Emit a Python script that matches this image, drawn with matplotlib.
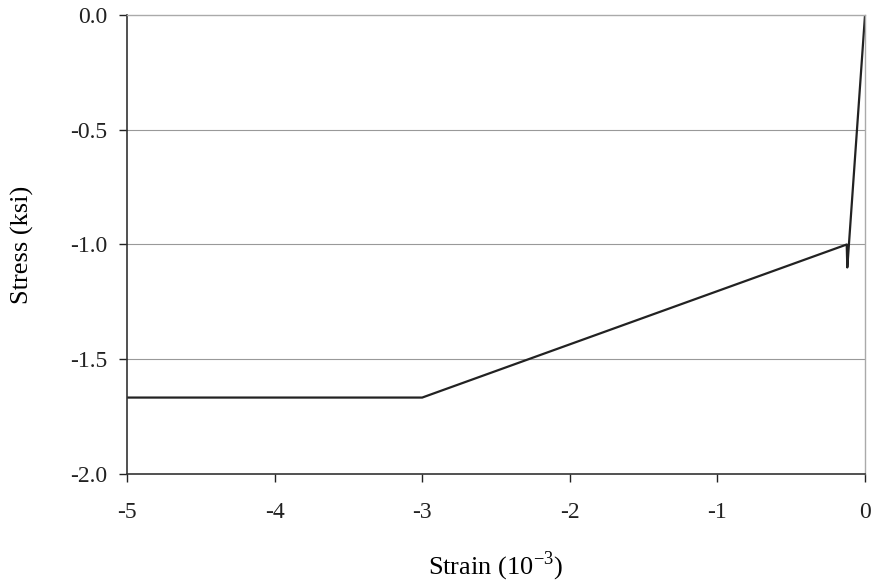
import matplotlib
matplotlib.use("Agg")
import matplotlib.pyplot as plt

plt.rcParams['font.family'] = ['Liberation Serif', 'DejaVu Serif']
plt.rcParams['mathtext.fontset'] = 'custom'
plt.rcParams['mathtext.rm'] = 'Liberation Serif'

strain = [0.0, -0.12, -0.124, -3.0, -5.0]
stress = [0.0, -1.1, -1.0, -1.667, -1.667]
xticks = [-5, -4, -3, -2, -1, 0]
yticks = [-2.0, -1.5, -1.0, -0.5, 0.0]

fig = plt.figure(figsize=(8.75, 5.82), dpi=100)
ax = fig.add_axes([0.1451, 0.1856, 0.8435, 0.7886])
ax.plot(strain, stress, color='#222222', lw=1.6)
ax.set_xlim(-5, 0)
ax.set_ylim(-2, 0)
ax.set_xticks(xticks)
ax.set_xticklabels([str(t) for t in xticks])
ax.set_yticks(yticks)
ax.set_yticklabels([f"{t:.1f}" for t in yticks])
for y in yticks[1:-1]:
    ax.axhline(y, color='#999999', lw=0.8, zorder=0)
for s in ['top', 'right']:
    ax.spines[s].set_color('#aaaaaa')
    ax.spines[s].set_linewidth(1.0)
for s in ['left', 'bottom']:
    ax.spines[s].set_color('#333333')
    ax.spines[s].set_linewidth(1.2)
ax.tick_params(direction='out', length=6, width=1, labelsize=17, colors='#222222')
ax.tick_params(axis='y', pad=8)
ax.tick_params(axis='x', pad=14)
ax.set_xlabel('Strain (10$^{\\mathregular{-3}}$)', fontsize=19)
ax.set_ylabel('Stress (ksi)', fontsize=19)
ax.xaxis.label.set_va('center')
ax.yaxis.label.set_va('center')
ax.xaxis.set_label_coords(0.5, (474 - 566) / 458)
ax.yaxis.set_label_coords((22 - 127) / 738, 0.5)
fig.savefig('out.png', dpi=100)
